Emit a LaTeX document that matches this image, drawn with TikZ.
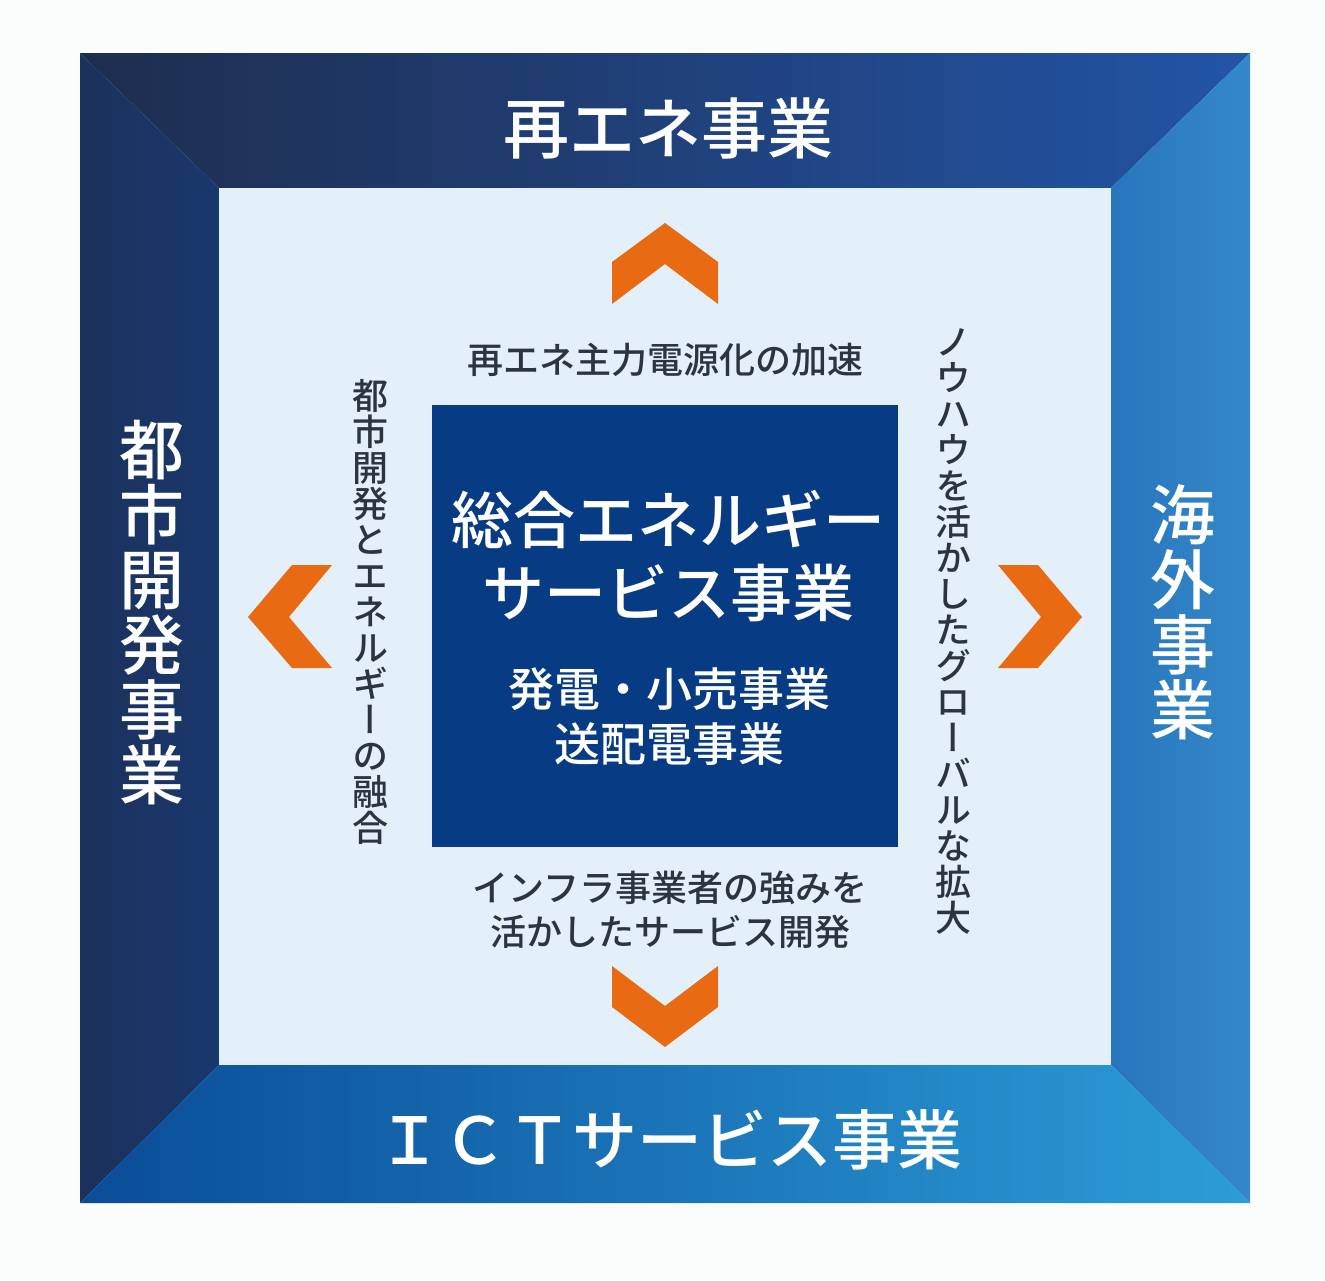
\documentclass[tikz,border=0pt]{standalone}
\usepackage{fontspec}
\setmainfont{Noto Sans CJK JP}[BoldFont={Noto Sans CJK JP Medium}]
\newfontfamily\vjp{Noto Sans CJK JP}[RawFeature=+vert, BoldFont={Noto Sans CJK JP Medium}]
\newfontfamily\jpmed{Noto Sans CJK JP Medium}
\newfontfamily\vjpmed{Noto Sans CJK JP Medium}[RawFeature=+vert]
\definecolor{bgwhite}{HTML}{FBFDFD}
\definecolor{innerbg}{HTML}{E3F0FA}
\definecolor{centerbox}{HTML}{073C84}
\definecolor{chevorange}{HTML}{E86B14}
\definecolor{midgray}{HTML}{2A3540}
\begin{document}
\begin{tikzpicture}[x=1pt,y=-1pt,
  chev/.style={fill=chevorange, draw=none},
  midtext/.style={text=midgray, font=\jpmed\fontsize{36}{44}\selectfont, align=center, inner sep=0},
  vtext/.style={text=midgray, font=\vjpmed\fontsize{36}{36}\selectfont, align=center, inner sep=0},
  bigvtext/.style={text=white, font=\vjp\bfseries\fontsize{65}{65}\selectfont, align=center, inner sep=0},
  bigw/.style={text=white, font=\bfseries\fontsize{66}{66}\selectfont, inner sep=0, align=center},
  boxtitle/.style={text=white, font=\bfseries\fontsize{62}{73}\selectfont, inner sep=0, align=center},
  boxsub/.style={text=white, font=\bfseries\fontsize{46}{55}\selectfont, inner sep=0, align=center}]
\useasboundingbox (0,0) rectangle (1325,1280);
\fill[bgwhite] (0,0) rectangle (1325,1280);
% frame bands
\shade[left color={rgb,255:red,30;green,45;blue,78}, middle color={rgb,255:red,18;green,62;blue,140}, right color={rgb,255:red,34;green,84;blue,166}]
  (80,53) -- (1250,53) -- (1111,188) -- (219,188) -- cycle;
\shade[left color={rgb,255:red,28;green,49;blue,92}, right color={rgb,255:red,25;green,56;blue,108}]
  (80,53) -- (219,188) -- (219,1065) -- (80,1203) -- cycle;
\shade[left color={rgb,255:red,40;green,118;blue,189}, right color={rgb,255:red,52;green,136;blue,201}]
  (1250,53) -- (1250,1203) -- (1111,1065) -- (1111,188) -- cycle;
\shade[left color={rgb,255:red,10;green,76;blue,152}, middle color={rgb,255:red,24;green,108;blue,182}, right color={rgb,255:red,44;green,157;blue,215}]
  (80,1203) -- (1250,1203) -- (1111,1065) -- (219,1065) -- cycle;
% inner area
\fill[innerbg] (219,188) rectangle (1111,1065);
% centre box
\fill[centerbox] (432,405) rectangle (898,847);
% chevrons
\fill[chev] (665,223) -- (718,262) -- (718,304) -- (665,264) -- (612,304) -- (612,262) -- cycle;
\fill[chev] (612,966) -- (665,1006) -- (718,966) -- (718,1007) -- (665,1047) -- (612,1007) -- cycle;
\fill[chev] (248,617) -- (292,565) -- (332,565) -- (289,617) -- (332,668) -- (292,668) -- cycle;
\fill[chev] (1082,617) -- (1038,565) -- (998,565) -- (1041,617) -- (998,668) -- (1038,668) -- cycle;
% outer labels
\node[bigw] (top) at (668,128) {再エネ事業};
\node[bigw, font=\bfseries\fontsize{65}{65}\selectfont] (bottom) at (670,1140) {ＩＣＴサービス事業};
\node[bigvtext] (left) at (152,613) {都\\市\\開\\発\\事\\業};
\node[bigvtext] (right) at (1183,612) {海\\外\\事\\業};
% centre texts
\node[boxtitle] (title) at (668,556) {総合エネルギー\\サービス事業};
\node[boxsub] (sub) at (669,717) {発電・小売事業\\送配電事業};
% middle texts
\node[midtext] (mtop) at (665,360) {再エネ主力電源化の加速};
\node[midtext] (mbottom) at (670,910) {インフラ事業者の強みを\\活かしたサービス開発};
\node[vtext] (mleft) at (370,612) {都\\市\\開\\発\\と\\エ\\ネ\\ル\\ギ\\ー\\の\\融\\合};
\node[vtext] (mright) at (953,632) {ノ\\ウ\\ハ\\ウ\\を\\活\\か\\し\\た\\グ\\ロ\\ー\\バ\\ル\\な\\拡\\大};
\end{tikzpicture}
\end{document}
